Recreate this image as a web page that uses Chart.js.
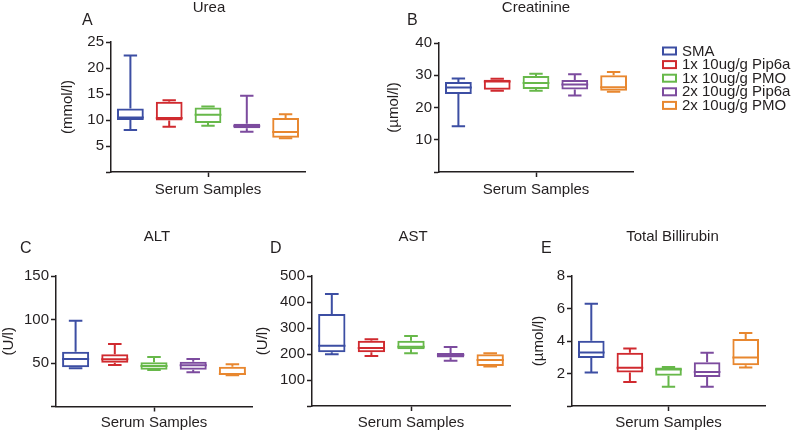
<!DOCTYPE html>
<html>
<head>
<meta charset="utf-8">
<script src="https://cdn.jsdelivr.net/npm/chart.js@4"></script>
<style>
    body { margin: 0; background: white; }
    #wrap { position: relative; width: 797px; height: 432px; overflow: hidden; }
    #wrap canvas { position: absolute; }
</style>
</head>
<body>
<div id="wrap">
    <canvas id="urea" style="left:0px;top:0px;"></canvas>
    <canvas id="creatinine" style="left:330px;top:0px;"></canvas>
    <canvas id="alt" style="left:0px;top:230px;"></canvas>
    <canvas id="ast" style="left:254px;top:230px;"></canvas>
    <canvas id="bili" style="left:524px;top:230px;"></canvas>
</div>
<script>
// groups, in the order they are plotted
const groups = ['SMA', '1x 10ug/g Pip6a', '1x 10ug/g PMO', '2x 10ug/g Pip6a', '2x 10ug/g PMO'];
const groupColors = ['#3c4ea3', '#d02a2f', '#67b84a', '#7c4b9e', '#e8872f'];

// each row: [min, q1, median, q3, max]
const urea = [
    [8.1, 10.0, 10.5, 12.2, 22.4],
    [8.7, 9.9, 10.4, 13.5, 13.8],
    [8.9, 9.4, 11.0, 12.4, 12.6],
    [7.75, 8.4, 8.85, 9.3, 14.65],
    [6.5, 6.6, 7.7, 10.4, 11.1]
];
const creatinine = [
    [14.2, 24.2, 26.2, 27.9, 29.0],
    [25.2, 25.5, 28.1, 28.6, 28.9],
    [25.2, 25.7, 27.6, 29.8, 30.5],
    [23.7, 25.6, 27.1, 28.5, 30.3],
    [24.9, 25.2, 26.3, 30.0, 31.0]
];
const alt = [
    [44, 45, 54.6, 63, 98.6],
    [47.7, 50.4, 54.2, 60, 71.8],
    [42, 42.3, 46.6, 50.8, 56.9],
    [39.3, 42.3, 47.3, 51.5, 54.6],
    [36, 36.2, 37.5, 45.8, 48.5]
];
const ast = [
    [198.7, 206.4, 232, 353.8, 430.8],
    [192.3, 206.4, 223, 251.3, 256.4],
    [202.6, 218, 228, 251, 269],
    [174, 187, 196, 203.8, 227],
    [152, 153.8, 177, 198.7, 202.6]
];
const bilirubin = [
    [2.06, 2.95, 3.3, 4.02, 6.3],
    [1.47, 2.06, 2.35, 3.28, 3.54],
    [1.18, 1.86, 2.25, 2.37, 2.4],
    [1.18, 1.78, 2.1, 2.7, 3.28],
    [2.37, 2.51, 2.99, 4.12, 4.49]
];

const FONT = '"Liberation Sans", Arial, Helvetica, sans-serif';
const INK = '#231f20';

// whiskers, caps and medians drawn on top of the floating bars
const boxWhiskers = {
    id: 'boxWhiskers',
    afterDatasetsDraw(chart) {
        const ctx = chart.ctx;
        const y = chart.scales.y;
        const meta = chart.getDatasetMeta(0);
        const rows = chart.config.options.plugins.boxWhiskers.rows;
        ctx.save();
        ctx.lineWidth = 2;
        meta.data.forEach((bar, i) => {
            const [min, q1, med, q3, max] = rows[i];
            const half = bar.width / 2;
            const cap = bar.width / 4;
            ctx.strokeStyle = groupColors[i];
            ctx.beginPath();
            ctx.moveTo(bar.x - half, y.getPixelForValue(med));
            ctx.lineTo(bar.x + half, y.getPixelForValue(med));
            ctx.moveTo(bar.x, y.getPixelForValue(q3));
            ctx.lineTo(bar.x, y.getPixelForValue(max));
            ctx.moveTo(bar.x - cap, y.getPixelForValue(max));
            ctx.lineTo(bar.x + cap, y.getPixelForValue(max));
            ctx.moveTo(bar.x, y.getPixelForValue(q1));
            ctx.lineTo(bar.x, y.getPixelForValue(min));
            ctx.moveTo(bar.x - cap, y.getPixelForValue(min));
            ctx.lineTo(bar.x + cap, y.getPixelForValue(min));
            ctx.stroke();
        });
        ctx.restore();
    }
};

// panel letter and panel title
const panelText = {
    id: 'panelText',
    afterDraw(chart, args, opts) {
        const {ctx, chartArea} = chart;
        ctx.save();
        ctx.fillStyle = INK;
        ctx.textBaseline = 'middle';
        ctx.font = '16px ' + FONT;
        ctx.textAlign = 'left';
        ctx.fillText(opts.letter, chartArea.left + opts.letterDx, chartArea.top + opts.letterDy);
        ctx.font = '15px ' + FONT;
        ctx.textAlign = 'center';
        ctx.fillText(opts.title, (chartArea.left + chartArea.right) / 2 + opts.titleDx, chartArea.top + opts.titleDy);
        ctx.restore();
    }
};

// group legend (only on the creatinine panel)
const groupLegend = {
    id: 'groupLegend',
    afterDraw(chart, args, opts) {
        if (!opts.show) return;
        const {ctx, chartArea} = chart;
        ctx.save();
        ctx.font = '15px ' + FONT;
        ctx.textBaseline = 'middle';
        ctx.textAlign = 'left';
        groups.forEach((g, i) => {
            const x = chartArea.right + 30;
            const yy = 51 + i * 13.6;
            ctx.strokeStyle = groupColors[i];
            ctx.lineWidth = 2;
            ctx.strokeRect(x, yy - 3.5, 13, 7);
            ctx.fillStyle = INK;
            ctx.fillText(g, x + 19, yy + 0.5);
        });
        ctx.restore();
    }
};

function makePanel(id, size, rows, p) {
    const canvas = document.getElementById(id);
    canvas.width = size[0];
    canvas.height = size[1];
    canvas.style.width = size[0] + 'px';
    canvas.style.height = size[1] + 'px';
    return new Chart(canvas, {
        type: 'bar',
        data: {
            labels: groups,
            datasets: [{
                data: rows.map(r => [r[1], r[3]]),
                borderColor: groupColors,
                backgroundColor: 'rgba(255,255,255,0)',
                borderWidth: 2,
                borderSkipped: false,
                categoryPercentage: 1,
                barPercentage: 0.69
            }]
        },
        plugins: [boxWhiskers, panelText, groupLegend],
        options: {
            responsive: false,
            animation: false,
            devicePixelRatio: 1,
            layout: { padding: p.padding },
            plugins: {
                legend: { display: false },
                tooltip: { enabled: false },
                boxWhiskers: { rows: rows },
                panelText: p.text,
                groupLegend: { show: !!p.legend }
            },
            scales: {
                x: {
                    afterFit: s => { s.height = p.xHeight; },
                    grid: {
                        offset: false,
                        drawOnChartArea: false,
                        drawTicks: true,
                        tickLength: 5,
                        tickWidth: 1.5,
                        tickColor: c => c.index === 2 ? INK : 'rgba(0,0,0,0)'
                    },
                    border: { color: INK, width: 1.5 },
                    ticks: { display: false },
                    title: {
                        display: true,
                        text: 'Serum Samples',
                        color: INK,
                        font: { family: FONT, size: 15 },
                        padding: { top: 0, bottom: p.xTitlePad }
                    }
                },
                y: {
                    min: 0,
                    max: p.max,
                    afterFit: s => { s.width = p.yWidth; },
                    grid: {
                        drawOnChartArea: false,
                        drawTicks: true,
                        tickLength: 5,
                        tickWidth: 1.5,
                        tickColor: INK
                    },
                    border: { color: INK, width: 1.5 },
                    ticks: {
                        stepSize: p.step,
                        padding: 2,
                        color: INK,
                        font: { family: FONT, size: 15 },
                        callback: v => v === 0 ? '' : v
                    },
                    title: {
                        display: true,
                        text: p.unit,
                        color: INK,
                        font: { family: FONT, size: 15 },
                        padding: { top: p.yTitlePad, bottom: 0 }
                    }
                }
            }
        }
    });
}

makePanel('urea', [330, 200], urea, {
    padding: { top: 42, right: 25, left: 0, bottom: 0 },
    xHeight: 28, yWidth: 111, max: 25, step: 5, unit: '(mmol/l)',
    xTitlePad: 1, yTitlePad: 59,
    text: { letter: 'A', title: 'Urea', letterDx: -29, letterDy: -21, titleDx: 1, titleDy: -34 }
});
makePanel('creatinine', [467, 200], creatinine, {
    padding: { top: 43, right: 164, left: 0, bottom: 0 },
    xHeight: 28, yWidth: 109, max: 40, step: 10, unit: '(\u00b5mol/l)',
    xTitlePad: 1, yTitlePad: 55, legend: true,
    text: { letter: 'B', title: 'Creatinine', letterDx: -32, letterDy: -22, titleDx: 0, titleDy: -35 }
});
makePanel('alt', [254, 202], alt, {
    padding: { top: 46, right: 2, left: 0, bottom: 0 },
    xHeight: 25.5, yWidth: 56, max: 150, step: 50, unit: '(U/l)',
    xTitlePad: 0.5, yTitlePad: 0,
    text: { letter: 'C', title: 'ALT', letterDx: -36, letterDy: -27, titleDx: 3, titleDy: -39 }
});
makePanel('ast', [270, 202], ast, {
    padding: { top: 46, right: 14, left: 0, bottom: 0 },
    xHeight: 26, yWidth: 58, max: 500, step: 100, unit: '(U/l)',
    xTitlePad: 0.5, yTitlePad: 0,
    text: { letter: 'D', title: 'AST', letterDx: -42, letterDy: -27, titleDx: 2, titleDy: -39 }
});
makePanel('bili', [273, 202], bilirubin, {
    padding: { top: 46, right: 32, left: 0, bottom: 0 },
    xHeight: 26, yWidth: 48, max: 8, step: 2, unit: '(\u00b5mol/l)',
    xTitlePad: 0.5, yTitlePad: 6,
    text: { letter: 'E', title: 'Total Billirubin', letterDx: -31, letterDy: -27, titleDx: 4, titleDy: -39 }
});
</script>
</body>
</html>
